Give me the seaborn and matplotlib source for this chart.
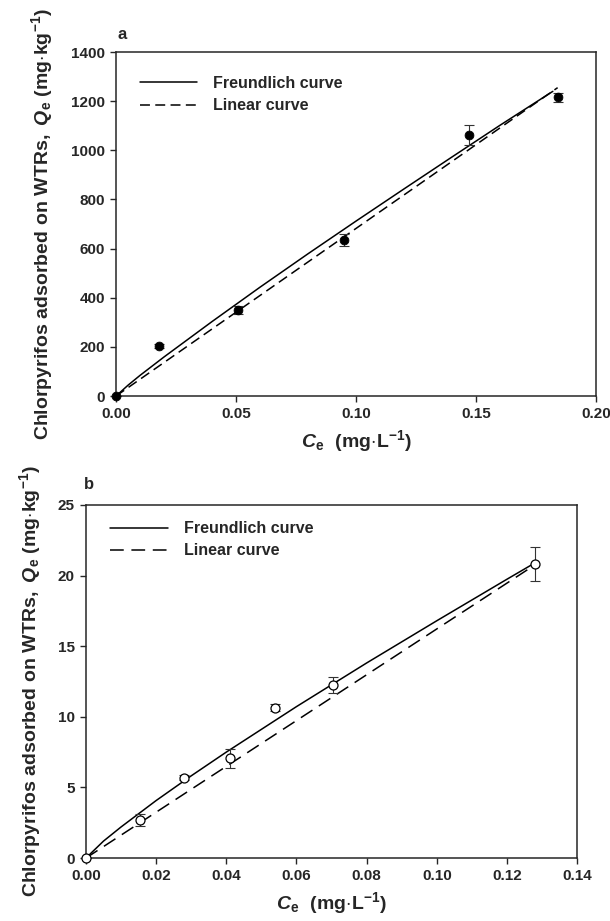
import matplotlib
matplotlib.use("Agg")
import matplotlib.pyplot as plt
import seaborn as sns

# panel a: measured points (filled)
ce_a = [0.0, 0.018, 0.051, 0.095, 0.147, 0.184]
qe_a = [0, 202, 350, 635, 1062, 1215]
err_a = [0, 8, 15, 25, 40, 20]
# curves
fr_ce_a = [0, 0.005, 0.01, 0.02, 0.04, 0.06, 0.08, 0.10, 0.12, 0.14, 0.16, 0.182]
fr_qe_a = [0, 44, 84, 159, 303, 443, 579, 712, 843, 973, 1102, 1240]
lin_ce_a = [0, 0.184]
lin_qe_a = [0, 1255]

# panel b: measured points (open)
ce_b = [0.0, 0.0155, 0.028, 0.041, 0.054, 0.0705, 0.128]
qe_b = [0, 2.7, 5.7, 7.05, 10.65, 12.25, 20.8]
err_b = [0, 0.45, 0.15, 0.65, 0.25, 0.6, 1.2]
fr_ce_b = [0, 0.005, 0.01, 0.02, 0.03, 0.04, 0.06, 0.08, 0.10, 0.12, 0.128]
fr_qe_b = [0, 1.2, 2.2, 4.07, 5.82, 7.5, 10.72, 13.81, 16.8, 19.74, 20.9]
lin_ce_b = [0, 0.127]
lin_qe_b = [0, 20.6]

sns.set_style("ticks")
plt.rcParams['font.family'] = ['Liberation Sans', 'DejaVu Sans']
plt.rcParams['font.weight'] = 'bold'
plt.rcParams['mathtext.fontset'] = 'custom'
plt.rcParams['mathtext.rm'] = 'Liberation Sans'
plt.rcParams['mathtext.it'] = 'Liberation Sans:italic'
plt.rcParams['mathtext.bf'] = 'Liberation Sans:bold'
plt.rcParams['mathtext.bfit'] = 'Liberation Sans:italic:bold'

ylab = r'$\mathbf{Chlorpyrifos\ adsorbed\ on\ WTRs,\ }\mathbfit{Q}_{\mathbf{e}}\mathbf{\ (mg{\cdot}kg^{-1})}$'
xlab = r'$\mathbfit{C}_{\mathbf{e}}\mathbf{\ \ (mg{\cdot}L^{-1})}$'

fig = plt.figure(figsize=(6.1, 9.21), dpi=100)
ax1 = fig.add_axes([0.1902, 0.570, 0.7869, 0.3735])
ax2 = fig.add_axes([0.141, 0.0684, 0.805, 0.3833])


def panel(ax, ce, qe, err, fr_x, fr_y, lin_x, lin_y, filled, dash, xmax, xstep, ymax, ystep,
          ylx, legy, tag, tagpos):
    sns.lineplot(x=fr_x, y=fr_y, ax=ax, color='black', lw=1.1, label='Freundlich curve')
    sns.lineplot(x=lin_x, y=lin_y, ax=ax, color='black', lw=1.1,
                 label='Linear curve').lines[-1].set_dashes(dash)
    ax.errorbar(ce, qe, yerr=err, fmt='none', ecolor='#333333', elinewidth=0.8,
                capsize=3.5, capthick=0.8, clip_on=False)
    if filled:
        sns.scatterplot(x=ce, y=qe, ax=ax, color='black', s=40, edgecolor='black',
                        linewidth=0.6, zorder=5, clip_on=False)
    else:
        sns.scatterplot(x=ce, y=qe, ax=ax, facecolor='white', s=42, edgecolor='black',
                        linewidth=0.9, zorder=5, clip_on=False)
    ax.set_xlim(0, xmax)
    ax.set_ylim(0, ymax)
    xt = [round(i * xstep, 2) for i in range(int(round(xmax / xstep)) + 1)]
    ax.set_xticks(xt)
    ax.set_xticklabels([f'{v:.2f}' for v in xt])
    ax.set_yticks([i * ystep for i in range(int(round(ymax / ystep)) + 1)])
    ax.tick_params(direction='out', length=4, width=1.0, labelsize=11, pad=4)
    for s in ax.spines.values():
        s.set_visible(True)
        s.set_linewidth(1.1)
    ax.set_xlabel(xlab, fontsize=14, labelpad=5)
    ax.set_ylabel(ylab, fontsize=14)
    ax.yaxis.set_label_coords(ylx, 0.5)
    ax.legend(loc='upper left', frameon=False, fontsize=11.5, handlelength=3.6,
              handletextpad=1.0, labelspacing=0.45, bbox_to_anchor=(0.02, legy))
    fig.text(tagpos[0], tagpos[1], tag, fontsize=12, fontweight='bold')


panel(ax1, ce_a, qe_a, err_a, fr_ce_a, fr_qe_a, lin_ce_a, lin_qe_a, True, (6.5, 3.5),
      0.20, 0.05, 1400, 200, -0.127, 0.972, 'a', (0.193, 0.958))
panel(ax2, ce_b, qe_b, err_b, fr_ce_b, fr_qe_b, lin_ce_b, lin_qe_b, False, (9, 5),
      0.14, 0.02, 25, 5, -0.088, 0.995, 'b', (0.138, 0.469))

fig.savefig('out.png', dpi=100)
